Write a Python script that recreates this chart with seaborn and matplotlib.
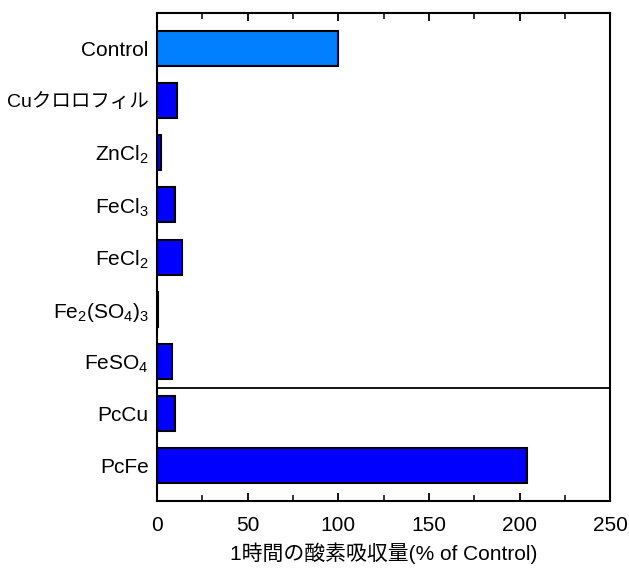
import matplotlib
matplotlib.use("Agg")
import matplotlib.pyplot as plt
import seaborn as sns
import pandas as pd

# Oxygen uptake over 1 hour, relative to control (%)
labels = ["Control", "Cuクロロフィル", r"ZnCl$_2$", r"FeCl$_3$", r"FeCl$_2$",
          r"Fe$_2$(SO$_4$)$_3$", r"FeSO$_4$", "PcCu", "PcFe"]
values = [100, 11, 2, 10, 14, 0.5, 8, 10, 204]
bar_colors = ["#0080FF", "#0000FF", "#0000FF", "#0000FF", "#0000FF",
              "#0000FF", "#0000FF", "#0000FF", "#0000FF"]
xticks = [0, 50, 100, 150, 200, 250]

sns.set_theme(style="white")
plt.rcParams["font.family"] = ["Liberation Sans", "Noto Sans CJK JP"]
plt.rcParams["mathtext.fontset"] = "custom"
plt.rcParams["mathtext.rm"] = "Liberation Sans"
plt.rcParams["mathtext.it"] = "Liberation Sans"
plt.rcParams["mathtext.default"] = "regular"
for key in ("text.color", "axes.labelcolor", "xtick.color", "ytick.color"):
    plt.rcParams[key] = "black"

df = pd.DataFrame({"label": labels, "value": values})

fig = plt.figure(figsize=(6.29, 5.70), dpi=100)
ax = fig.add_axes([0.2496, 0.121, 0.7206, 0.856])

sns.barplot(data=df, x="value", y="label", hue="label", palette=bar_colors,
            legend=False, orient="h", width=0.67, edgecolor="black",
            linewidth=1.5, saturation=1, ax=ax)

ax.set_xlim(0, 250)
ax.set_ylim(len(labels) - 1 + 0.673, -0.673)
ax.set_xticks(xticks)
ax.set_xticks(range(25, 250, 50), minor=True)
ax.tick_params(axis="x", which="both", direction="in", top=True, bottom=True,
               labelsize=15, pad=11)
ax.tick_params(axis="x", which="major", length=6, width=1.3)
ax.tick_params(axis="x", which="minor", length=4, width=1.1)
ax.tick_params(axis="y", length=0, labelsize=15, pad=6)
ax.set_ylabel("")
ax.set_xlabel("1時間の酸素吸収量(% of Control)", fontsize=15, labelpad=5)

# the katakana label is wide in a full-width face; set it a little smaller
for t in ax.get_yticklabels():
    if "ク" in t.get_text():
        t.set_fontsize(14)

for s in ax.spines.values():
    s.set_visible(True)
    s.set_color("black")
    s.set_linewidth(1.5)

# separator between the metal salts and the phthalocyanines
ax.axhline(6.5, color="black", lw=1.3)

fig.savefig("out.png", dpi=100)
